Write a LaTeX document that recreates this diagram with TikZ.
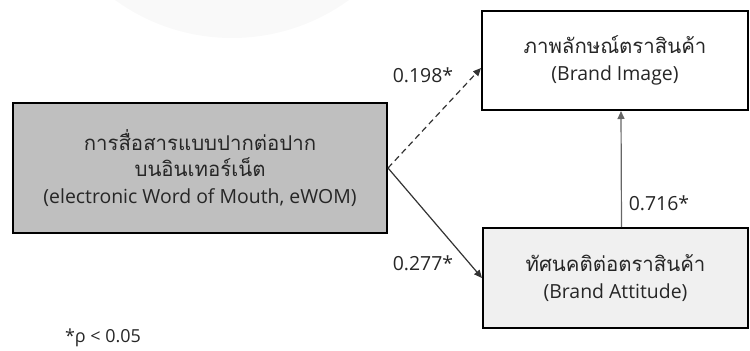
\documentclass[tikz,border=0pt]{standalone}
\usepackage{fontspec}
\setmainfont{Open Sans}
\newfontfamily\thaifont[Script=Thai,Scale=1.05]{Loma}
\usetikzlibrary{arrows.meta}
\begin{document}
\begin{tikzpicture}[x=1bp,y=-1bp,
  box/.style={draw=black, line width=2bp, inner sep=0pt, align=center,
    font=\fontsize{19.5}{26.5}\selectfont, text=black!85},
  lbl/.style={font=\fontsize{19.5}{22}\selectfont, inner sep=0pt, text=black!85},
  conn/.style={line width=1.2bp, draw=black!80, -{Triangle[length=8bp,width=7bp]}}]
\useasboundingbox (0,0) rectangle (750,350);
\fill[black!2.5] (232,-161) circle (199);
\node[box, fill=black!25, minimum width=374bp, minimum height=130bp] (ewom) at (200,168)
  {{\thaifont การสื่อสารแบบปากต่อปาก}\\{\thaifont บนอินเทอร์เน็ต}\\(electronic Word of Mouth, eWOM)};
\node[box, fill=white, minimum width=266bp, minimum height=99bp] (img) at (615,60.5)
  {{\thaifont ภาพลักษณ์ตราสินค้า}\\(Brand Image)};
\node[box, fill=black!6, minimum width=265bp, minimum height=100bp] (att) at (615.5,278)
  {{\thaifont ทัศนคติต่อตราสินค้า}\\(Brand Attitude)};
\draw[conn, dash pattern=on 6bp off 4bp] (ewom.east) -- ([yshift=-7.5bp]img.west);
\draw[conn] (ewom.east) -- (att.west);
\draw[conn, draw=black!60] ([xshift=6bp]att.north) -- ([xshift=6bp]img.south);
\node[lbl] (l1) at (423,75) {0.198*};
\node[lbl] (l2) at (423,263) {0.277*};
\node[lbl] (l3) at (659,203) {0.716*};
\node[lbl, font=\fontsize{18}{20}\selectfont] (note) at (103,338) {*ρ < 0.05};
\end{tikzpicture}
\end{document}
